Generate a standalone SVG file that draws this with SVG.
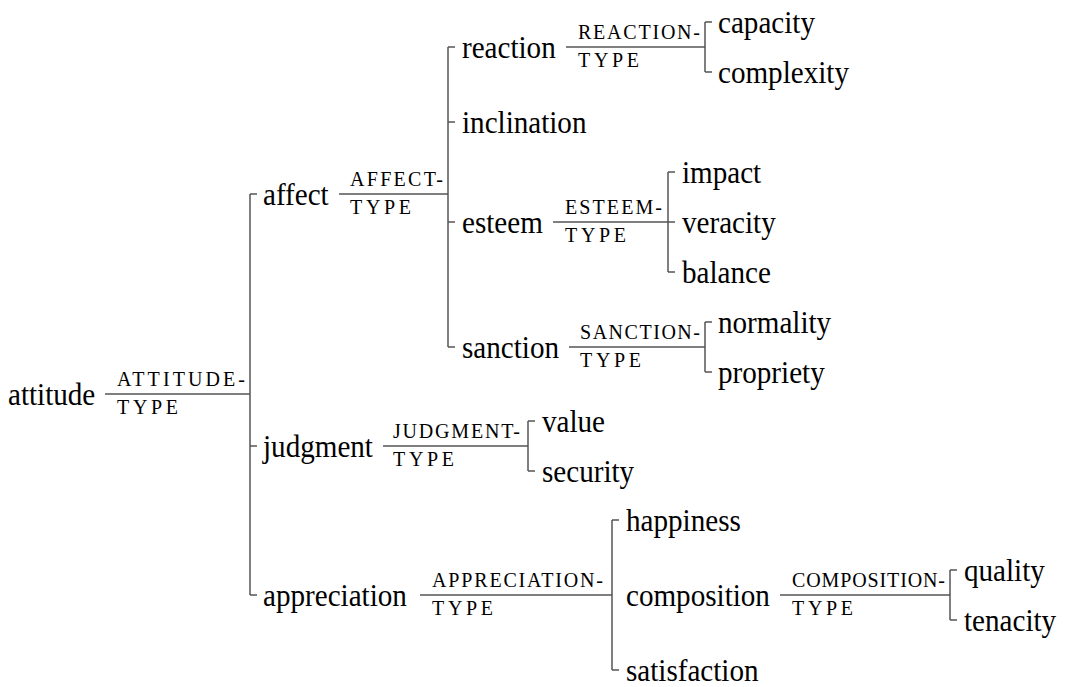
<svg xmlns="http://www.w3.org/2000/svg" width="1070" height="687" viewBox="0 0 1070 687">
<style>
.t{font-family:'Liberation Serif';font-size:32px}
.s{font-family:'Liberation Serif';font-size:20px}
.c path{fill:none;stroke:#555;stroke-width:1.5}
</style>
<rect width="1070" height="687" fill="#fff"/>
<g class="c" id="connectors">
<path d="M105 394H250M250 194V595M250 194H257M250 446H257M250 595H257"/>
<path d="M339 194H448M448 47V347M448 47H455M448 122H455M448 222H455M448 347H455"/>
<path d="M566 47H705M705 22V72M705 22H712M705 72H712"/>
<path d="M553 222H668M668 172V272M668 172H675M668 222H675M668 272H675"/>
<path d="M569 347H705M705 322V372M705 322H712M705 372H712"/>
<path d="M383 446H528M528 421V471M528 421H535M528 471H535"/>
<path d="M420 595H612M612 520V670M612 520H619M612 670H619"/>
<path d="M780 595H950M950 570V620M950 570H957M950 620H957"/>
</g>
<g id="attitude"><text class="t" font-family="Liberation Serif" transform="translate(8 405) scale(0.91 1)">attitude</text><text class="s" font-family="Liberation Serif" x="117" y="386" textLength="128" lengthAdjust="spacing">ATTITUDE-</text><text class="s" font-family="Liberation Serif" x="117" y="414" textLength="61" lengthAdjust="spacing">TYPE</text></g>
<g id="affect"><text class="t" font-family="Liberation Serif" transform="translate(263 205) scale(0.91 1)">affect</text><text class="s" font-family="Liberation Serif" x="350" y="186" textLength="93" lengthAdjust="spacing">AFFECT-</text><text class="s" font-family="Liberation Serif" x="350" y="214" textLength="61" lengthAdjust="spacing">TYPE</text></g>
<g id="reaction"><text class="t" font-family="Liberation Serif" transform="translate(462 58) scale(0.91 1)">reaction</text><text class="s" font-family="Liberation Serif" x="578" y="39" textLength="122" lengthAdjust="spacing">REACTION-</text><text class="s" font-family="Liberation Serif" x="578" y="67" textLength="61" lengthAdjust="spacing">TYPE</text></g>
<g id="capacity"><text class="t" font-family="Liberation Serif" transform="translate(718 33) scale(0.91 1)">capacity</text></g>
<g id="complexity"><text class="t" font-family="Liberation Serif" transform="translate(718 83) scale(0.91 1)">complexity</text></g>
<g id="inclination"><text class="t" font-family="Liberation Serif" transform="translate(462 133) scale(0.91 1)">inclination</text></g>
<g id="esteem"><text class="t" font-family="Liberation Serif" transform="translate(462 233) scale(0.91 1)">esteem</text><text class="s" font-family="Liberation Serif" x="565" y="214" textLength="97" lengthAdjust="spacing">ESTEEM-</text><text class="s" font-family="Liberation Serif" x="565" y="242" textLength="61" lengthAdjust="spacing">TYPE</text></g>
<g id="impact"><text class="t" font-family="Liberation Serif" transform="translate(682 183) scale(0.91 1)">impact</text></g>
<g id="veracity"><text class="t" font-family="Liberation Serif" transform="translate(682 233) scale(0.91 1)">veracity</text></g>
<g id="balance"><text class="t" font-family="Liberation Serif" transform="translate(682 283) scale(0.91 1)">balance</text></g>
<g id="sanction"><text class="t" font-family="Liberation Serif" transform="translate(462 358) scale(0.91 1)">sanction</text><text class="s" font-family="Liberation Serif" x="580" y="339" textLength="120" lengthAdjust="spacing">SANCTION-</text><text class="s" font-family="Liberation Serif" x="580" y="367" textLength="61" lengthAdjust="spacing">TYPE</text></g>
<g id="normality"><text class="t" font-family="Liberation Serif" transform="translate(718 333) scale(0.91 1)">normality</text></g>
<g id="propriety"><text class="t" font-family="Liberation Serif" transform="translate(718 383) scale(0.91 1)">propriety</text></g>
<g id="judgment"><text class="t" font-family="Liberation Serif" transform="translate(263 457) scale(0.91 1)">judgment</text><text class="s" font-family="Liberation Serif" x="393" y="438" textLength="127" lengthAdjust="spacing">JUDGMENT-</text><text class="s" font-family="Liberation Serif" x="393" y="466" textLength="61" lengthAdjust="spacing">TYPE</text></g>
<g id="value"><text class="t" font-family="Liberation Serif" transform="translate(542 432) scale(0.91 1)">value</text></g>
<g id="security"><text class="t" font-family="Liberation Serif" transform="translate(542 482) scale(0.91 1)">security</text></g>
<g id="appreciation"><text class="t" font-family="Liberation Serif" transform="translate(263 606) scale(0.91 1)">appreciation</text><text class="s" font-family="Liberation Serif" x="432" y="587" textLength="171" lengthAdjust="spacing">APPRECIATION-</text><text class="s" font-family="Liberation Serif" x="432" y="615" textLength="61" lengthAdjust="spacing">TYPE</text></g>
<g id="happiness"><text class="t" font-family="Liberation Serif" transform="translate(626 531) scale(0.91 1)">happiness</text></g>
<g id="composition"><text class="t" font-family="Liberation Serif" transform="translate(626 606) scale(0.91 1)">composition</text><text class="s" font-family="Liberation Serif" x="792" y="587" textLength="153" lengthAdjust="spacing">COMPOSITION-</text><text class="s" font-family="Liberation Serif" x="792" y="615" textLength="61" lengthAdjust="spacing">TYPE</text></g>
<g id="quality"><text class="t" font-family="Liberation Serif" transform="translate(964 581) scale(0.91 1)">quality</text></g>
<g id="tenacity"><text class="t" font-family="Liberation Serif" transform="translate(964 631) scale(0.91 1)">tenacity</text></g>
<g id="satisfaction"><text class="t" font-family="Liberation Serif" transform="translate(626 681) scale(0.91 1)">satisfaction</text></g>
</svg>
